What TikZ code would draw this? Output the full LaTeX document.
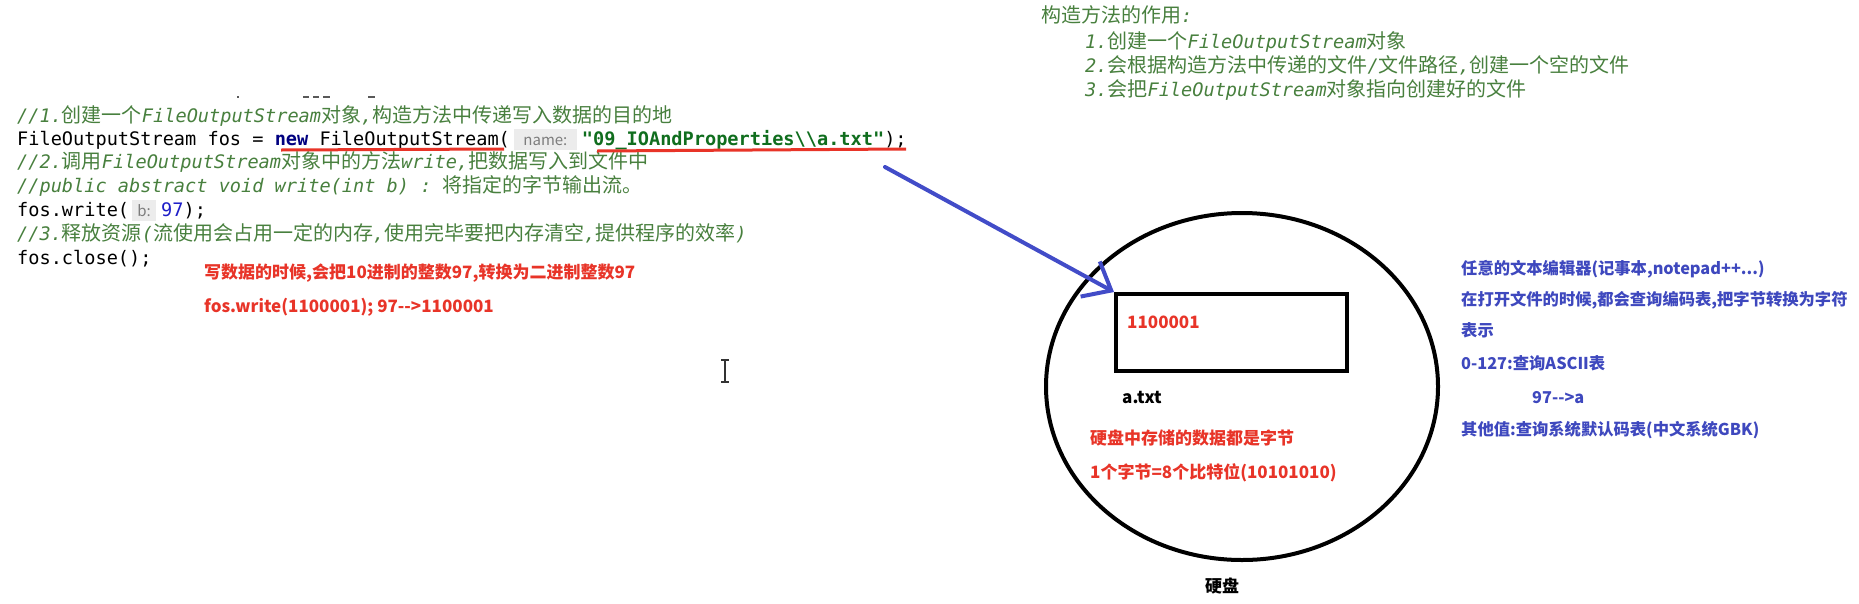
\documentclass[tikz,border=0pt]{standalone}
\usepackage{fontspec}
\usetikzlibrary{arrows.meta,shapes.geometric}
\setmonofont{DejaVu Sans Mono}[ItalicFont={DejaVu Sans Mono Oblique},BoldFont={DejaVu Sans Mono Bold}]
\newfontfamily\zhfont[Scale=1.075]{Noto Sans CJK SC}
\newfontfamily\notefont{Noto Sans CJK SC}
\definecolor{cmtgreen}{RGB}{72,128,62}
\definecolor{strgreen}{RGB}{16,110,30}
\definecolor{kwnavy}{RGB}{0,0,128}
\definecolor{numblue}{RGB}{30,30,200}
\definecolor{hintbg}{RGB}{236,236,236}
\definecolor{hintfg}{RGB}{125,125,125}
\definecolor{notered}{RGB}{232,52,40}
\definecolor{noteblue}{RGB}{62,72,190}
\definecolor{penblue}{RGB}{66,76,200}
\newcommand{\zh}[1]{{\zhfont\upshape #1}}
\newcommand{\hint}[3]{\kern#1{\setlength{\fboxsep}{0pt}\colorbox{hintbg}{\makebox[#2][c]{\rule[-5pt]{0pt}{21pt}\notefont\fontsize{15}{15}\selectfont\color{hintfg}#3}}}\kern5pt}

\begin{document}
\begin{tikzpicture}[x=1pt,y=-1pt,
  code/.style={anchor=base west,inner sep=0pt,font=\ttfamily\fontsize{18.6}{24}\selectfont},
  cmt/.style={code,text=cmtgreen,font=\ttfamily\itshape\fontsize{18.6}{24}\selectfont},
  note/.style={anchor=base west,inner sep=0pt,text=notered,font=\notefont\bfseries\fontsize{17}{20}\selectfont},
  editor/.style={note,text=noteblue,font=\notefont\bfseries\fontsize{16.3}{20}\selectfont}]
\fill[white] (0,0) rectangle (1859,603);
\useasboundingbox (0,0) rectangle (1859,603);
\draw[gray!70!black,line width=1.5pt] (237,97) -- (239,97) (303,97) -- (309,97) (313,97) -- (319,97) (323,97) -- (330,97) (368,97) -- (375,97);
\node[cmt] (line1) at (17,122) {//1.\zh{创建一个}FileOutputStream\zh{对象},\zh{构造方法中传递写入数据的目的地}};
\node[code] (line2) at (17,145) {FileOutputStream fos = {\color{kwnavy}\bfseries new} FileOutputStream(\hint{4pt}{63pt}{name:}{\color{strgreen}\bfseries "09\_IOAndProperties\textbackslash\textbackslash a.txt"});};
\node[cmt] (line3) at (17,168) {//2.\zh{调用}FileOutputStream\zh{对象中的方法}write,\zh{把数据写入到文件中}};
\node[cmt] (line4) at (17,192) {//public abstract void write(int b) : \zh{将指定的字节输出流。}};
\node[code] (line5) at (17,216) {fos.write(\hint{3pt}{24pt}{b:}{\color{numblue}97});};
\node[cmt] (line6) at (17,240) {//3.\zh{释放资源}(\zh{流使用会占用一定的内存},\zh{使用完毕要把内存清空},\zh{提供程序的效率})};
\node[code] (line7) at (17,264) {fos.close();};
\draw[notered,line width=3pt] (281,150) -- (504,149) (597,151) -- (906,149);
\node[cmt] (role) at (1041,22) {\zh{构造方法的作用}:};
\node[cmt] (role1) at (1085,48) {1.\zh{创建一个}FileOutputStream\zh{对象}};
\node[cmt] (role2) at (1085,72) {2.\zh{会根据构造方法中传递的文件}/\zh{文件路径},\zh{创建一个空的文件}};
\node[cmt] (role3) at (1085,96) {3.\zh{会把}FileOutputStream\zh{对象指向创建好的文件}};
\node[note] (decimal) at (204,278) {写数据的时候,会把10进制的整数97,转换为二进制整数97};
\node[note] (binary) at (204,312) {fos.write(1100001); 97-{}->1100001};
\draw[black!80,line width=1.2pt] (725,360) -- (725,382) (721,360) -- (729,360) (721,382) -- (729,382);
\node[ellipse,draw,line width=4pt,minimum width=392pt,minimum height=347pt,inner sep=0pt] (disk) at (1242,386.5) {};
\node[draw,line width=4pt,minimum width=231pt,minimum height=77pt,inner sep=0pt] (file) at (1231.5,332.5) {};
\node[note] (bits) at (1127,328) {1100001};
\node[note,text=black] (fname) at (1122,403) {a.txt};
\node[note] (store) at (1090,444) {硬盘中存储的数据都是字节};
\node[note] (byte) at (1090,478) {1个字节=8个比特位(10101010)};
\node[note,text=black,anchor=base] (disklabel) at (1222,592) {硬盘};
\coordinate (pen) at (885,167);
\draw[penblue,line width=4pt,line cap=round,-{Straight Barb[length=24pt,width=40pt]}] (pen) -- (file.north west);
\node[editor] (ed1) at (1461,274) {任意的文本编辑器(记事本,notepad++...)};
\node[editor] (ed2) at (1461,305) {在打开文件的时候,都会查询编码表,把字节转换为字符};
\node[editor] (ed3) at (1461,336) {表示};
\node[editor] (ed4) at (1461,369) {0-127:查询ASCII表};
\node[editor] (ed5) at (1532,403) {97-{}->a};
\node[editor] (ed6) at (1461,435) {其他值:查询系统默认码表(中文系统GBK)};
\end{tikzpicture}
\end{document}
